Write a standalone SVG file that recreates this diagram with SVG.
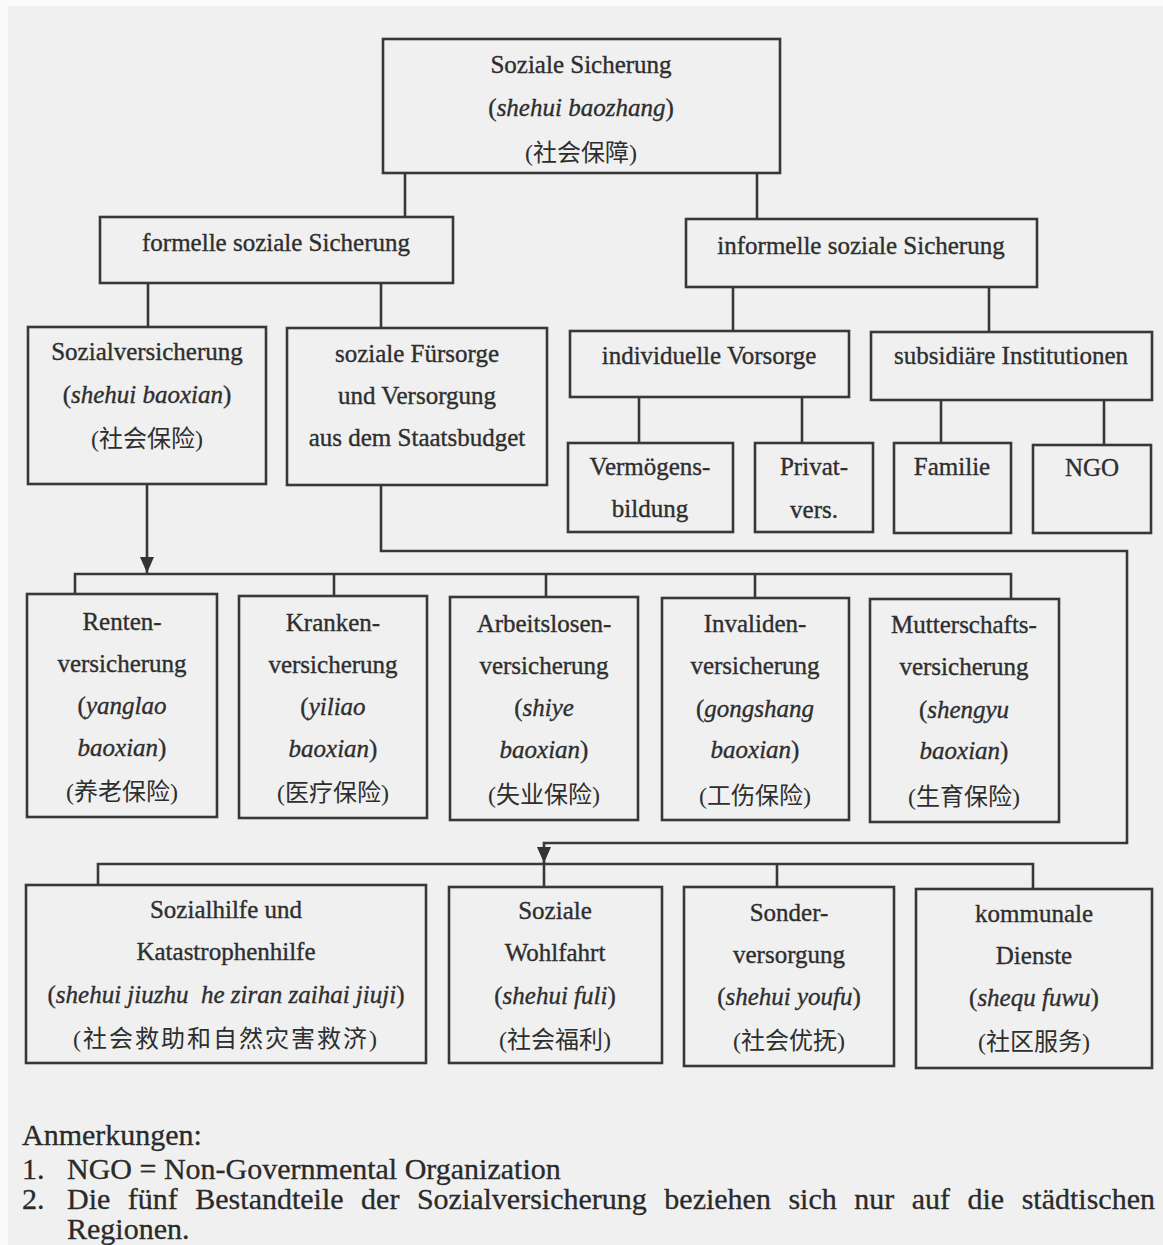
<svg xmlns="http://www.w3.org/2000/svg" width="1163" height="1245" viewBox="0 0 1163 1245">
<defs>
<style>
.bx{fill:none;stroke:#383838;stroke-width:2.6}
.ln{fill:none;stroke:#383838;stroke-width:2.6}
.t{font-family:'Liberation Serif','Times New Roman','Noto Sans CJK SC',serif;font-size:25px;fill:#2e2e2e;stroke:#2e2e2e;stroke-width:0.35;text-anchor:middle}
.c{font-family:'Liberation Serif','Noto Sans CJK SC',sans-serif;font-size:24px;fill:#2e2e2e;text-anchor:middle}
.i{font-style:italic}
.fn{font-family:'Liberation Serif','Times New Roman',serif;font-size:30px;fill:#2a2a2a;stroke:#2a2a2a;stroke-width:0.3}
</style>
<marker id="arr" markerUnits="userSpaceOnUse" markerWidth="16" markerHeight="14" viewBox="0 0 16 14" refX="16" refY="7" orient="auto">
<path d="M0,0 L16,7 L0,14 Z" fill="#333"/>
</marker>
</defs>
<rect x="0" y="0" width="1163" height="1245" fill="#fafafa"/>
<rect x="8" y="6" width="1155" height="1239" fill="#f0f0f0"/>

<g id="connectors">
<path class="ln" d="M405,173 V217 M757,173 V219"/>
<path class="ln" d="M148,283 V327 M381,283 V328"/>
<path class="ln" d="M733,287 V331 M989,287 V332"/>
<path class="ln" d="M639,397 V443 M802,397 V443 M941,400 V443 M1104,400 V445"/>
<path class="ln" d="M147,484 V573" marker-end="url(#arr)"/>
<path class="ln" d="M75,594 V574 H1011 V599 M334,574 V596 M546,574 V597 M755,574 V598"/>
<path class="ln" d="M381,485 V551 H1127 V843 H544 V863" marker-end="url(#arr)"/>
<path class="ln" d="M98,885 V864 H1033 V889 M544,862 V887 M777,864 V887"/>
</g>

<g id="n-root">
<rect class="bx" x="383" y="39" width="397" height="134"/>
<text class="t" x="581" y="73">Soziale Sicherung</text>
<text class="t" x="581" y="116">(<tspan class="i">shehui baozhang</tspan>)</text>
<text class="c" x="581" y="161">(社会保障)</text>
</g>

<g id="n-formell">
<rect class="bx" x="100" y="217" width="353" height="66"/>
<text class="t" x="276" y="251">formelle soziale Sicherung</text>
</g>

<g id="n-informell">
<rect class="bx" x="686" y="219" width="351" height="68"/>
<text class="t" x="861" y="254">informelle soziale Sicherung</text>
</g>

<g id="n-sozialvers">
<rect class="bx" x="28" y="327" width="238" height="157"/>
<text class="t" x="147" y="360">Sozialversicherung</text>
<text class="t" x="147" y="403">(<tspan class="i">shehui baoxian</tspan>)</text>
<text class="c" x="147" y="447">(社会保险)</text>
</g>

<g id="n-fuersorge">
<rect class="bx" x="287" y="328" width="260" height="157"/>
<text class="t" x="417" y="362">soziale Fürsorge</text>
<text class="t" x="417" y="404">und Versorgung</text>
<text class="t" x="417" y="446">aus dem Staatsbudget</text>
</g>

<g id="n-individuell">
<rect class="bx" x="570" y="331" width="279" height="66"/>
<text class="t" x="709" y="364">individuelle Vorsorge</text>
</g>

<g id="n-subsidiaer">
<rect class="bx" x="871" y="332" width="281" height="68"/>
<text class="t" x="1011" y="364">subsidiäre Institutionen</text>
</g>

<g id="n-vermoegen">
<rect class="bx" x="568" y="443" width="165" height="89"/>
<text class="t" x="650" y="475">Vermögens-</text>
<text class="t" x="650" y="517">bildung</text>
</g>

<g id="n-privat">
<rect class="bx" x="755" y="443" width="118" height="89"/>
<text class="t" x="814" y="475">Privat-</text>
<text class="t" x="814" y="518">vers.</text>
</g>

<g id="n-familie">
<rect class="bx" x="894" y="443" width="117" height="90"/>
<text class="t" x="952" y="475">Familie</text>
</g>

<g id="n-ngo">
<rect class="bx" x="1033" y="445" width="118" height="88"/>
<text class="t" x="1092" y="476">NGO</text>
</g>

<g id="n-rente">
<rect class="bx" x="27" y="594" width="190" height="223"/>
<text class="t" x="122" y="630">Renten-</text>
<text class="t" x="122" y="672">versicherung</text>
<text class="t" x="122" y="714">(<tspan class="i">yanglao</tspan></text>
<text class="t" x="122" y="756"><tspan class="i">baoxian</tspan>)</text>
<text class="c" x="122" y="800">(养老保险)</text>
</g>

<g id="n-kranken">
<rect class="bx" x="239" y="596" width="188" height="222"/>
<text class="t" x="333" y="631">Kranken-</text>
<text class="t" x="333" y="673">versicherung</text>
<text class="t" x="333" y="715">(<tspan class="i">yiliao</tspan></text>
<text class="t" x="333" y="757"><tspan class="i">baoxian</tspan>)</text>
<text class="c" x="333" y="801">(医疗保险)</text>
</g>

<g id="n-arbeitslos">
<rect class="bx" x="450" y="597" width="188" height="223"/>
<text class="t" x="544" y="632">Arbeitslosen-</text>
<text class="t" x="544" y="674">versicherung</text>
<text class="t" x="544" y="716">(<tspan class="i">shiye</tspan></text>
<text class="t" x="544" y="758"><tspan class="i">baoxian</tspan>)</text>
<text class="c" x="544" y="803">(失业保险)</text>
</g>

<g id="n-invaliden">
<rect class="bx" x="662" y="598" width="187" height="222"/>
<text class="t" x="755" y="632">Invaliden-</text>
<text class="t" x="755" y="674">versicherung</text>
<text class="t" x="755" y="717">(<tspan class="i">gongshang</tspan></text>
<text class="t" x="755" y="758"><tspan class="i">baoxian</tspan>)</text>
<text class="c" x="755" y="804">(工伤保险)</text>
</g>

<g id="n-mutterschaft">
<rect class="bx" x="870" y="599" width="189" height="223"/>
<text class="t" x="964" y="633">Mutterschafts-</text>
<text class="t" x="964" y="675">versicherung</text>
<text class="t" x="964" y="718">(<tspan class="i">shengyu</tspan></text>
<text class="t" x="964" y="759"><tspan class="i">baoxian</tspan>)</text>
<text class="c" x="964" y="805">(生育保险)</text>
</g>

<g id="n-sozialhilfe">
<rect class="bx" x="26" y="885" width="400" height="178"/>
<text class="t" x="226" y="918">Sozialhilfe und</text>
<text class="t" x="226" y="960">Katastrophenhilfe</text>
<text class="t" x="226" y="1003" xml:space="preserve">(<tspan class="i">shehui jiuzhu  he ziran zaihai jiuji</tspan>)</text>
<text class="c" x="226" y="1047" letter-spacing="2">(社会救助和自然灾害救济)</text>
</g>

<g id="n-wohlfahrt">
<rect class="bx" x="449" y="887" width="213" height="176"/>
<text class="t" x="555" y="919">Soziale</text>
<text class="t" x="555" y="961">Wohlfahrt</text>
<text class="t" x="555" y="1004">(<tspan class="i">shehui fuli</tspan>)</text>
<text class="c" x="555" y="1048">(社会福利)</text>
</g>

<g id="n-sonder">
<rect class="bx" x="684" y="887" width="210" height="179"/>
<text class="t" x="789" y="921">Sonder-</text>
<text class="t" x="789" y="963">versorgung</text>
<text class="t" x="789" y="1005">(<tspan class="i">shehui youfu</tspan>)</text>
<text class="c" x="789" y="1049">(社会优抚)</text>
</g>

<g id="n-kommunal">
<rect class="bx" x="916" y="889" width="236" height="179"/>
<text class="t" x="1034" y="922">kommunale</text>
<text class="t" x="1034" y="964">Dienste</text>
<text class="t" x="1034" y="1006">(<tspan class="i">shequ fuwu</tspan>)</text>
<text class="c" x="1034" y="1050">(社区服务)</text>
</g>

<g id="notes">
<text class="fn" x="22" y="1145">Anmerkungen:</text>
<text class="fn" x="22" y="1179">1.</text>
<text class="fn" x="67" y="1179">NGO = Non-Governmental Organization</text>
<text class="fn" x="22" y="1209">2.</text>
<text class="fn" x="67" y="1209" word-spacing="10">Die fünf Bestandteile der Sozialversicherung beziehen sich nur auf die städtischen</text>
<text class="fn" x="67" y="1239">Regionen.</text>
</g>
</svg>
